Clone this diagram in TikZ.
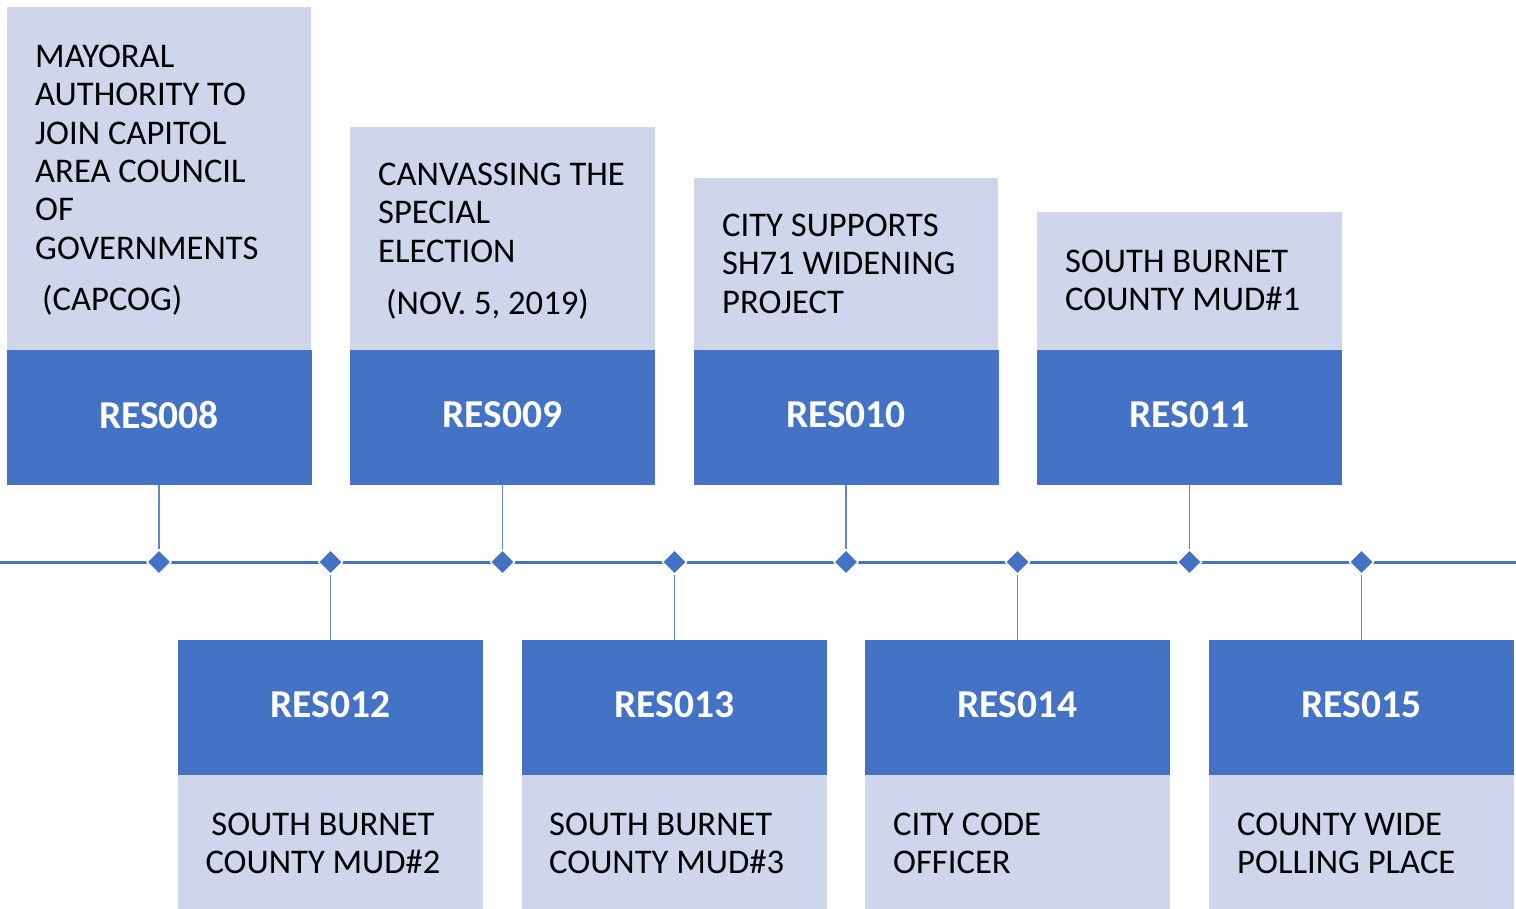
\documentclass[tikz,border=0pt]{standalone}
\usepackage{fontspec}
\setmainfont{Carlito}
\usetikzlibrary{shapes.geometric}
\definecolor{resblue}{HTML}{4472C4}
\definecolor{reslight}{HTML}{CFD5EA}
\begin{document}
\begin{tikzpicture}[x=1pt,y=-1pt,line join=round,
	resbox/.style={fill=resblue,minimum width=305pt,minimum height=135pt,inner sep=0pt,text depth=6pt,text=white,font=\fontsize{39.5}{42}\selectfont\bfseries},
	infotext/.style={anchor=north west,inner sep=0pt,align=left,font=\fontsize{34.6}{38.3}\selectfont},
	dmark/.style={diamond,fill=resblue,draw=white,line width=1.5pt,inner sep=0pt,minimum width=25pt,minimum height=25pt},
	link/.style={draw=resblue!85,line width=1.3pt}]
	\useasboundingbox (0,0) rectangle (1516,909);
	% light panels
	\fill[reslight] (7,7) rectangle (311,350);
	\fill[reslight] (350,127) rectangle (655,350);
	\fill[reslight] (694,178) rectangle (998,350);
	\fill[reslight] (1037,212) rectangle (1342,350);
	\foreach \x in {178,522,865,1209} \fill[reslight] (\x,775) rectangle (\x+305,909);
	% timeline
	\draw[resblue,line width=3pt] (0,562)--(1516,562);
	\foreach \n/\x in {1/159,2/330.5,3/502.5,4/674.5,5/846,6/1017.5,7/1189.5,8/1361.5}
		\node[dmark] (d\n) at (\x,562) {};
	% resolutions
	\node[resbox] (r008) at (159,417.5) {RES008};
	\node[resbox] (r009) at (502.5,417.5) {RES009};
	\node[resbox] (r010) at (846,417.5) {RES010};
	\node[resbox] (r011) at (1189.5,417.5) {RES011};
	\node[resbox] (r012) at (330.5,707.5) {RES012};
	\node[resbox] (r013) at (674.5,707.5) {RES013};
	\node[resbox] (r014) at (1017.5,707.5) {RES014};
	\node[resbox] (r015) at (1361.5,707.5) {RES015};
	\draw[link] (r008)--(d1);
	\draw[link] (r009)--(d3);
	\draw[link] (r010)--(d5);
	\draw[link] (r011)--(d7);
	\draw[link] (d2)--(r012);
	\draw[link] (d4)--(r013);
	\draw[link] (d6)--(r014);
	\draw[link] (d8)--(r015);
	% descriptions
	\node[infotext] (t008) at (35,45) {MAYORAL\\AUTHORITY TO\\JOIN CAPITOL\\AREA COUNCIL\\OF\\GOVERNMENTS\\[13pt]\hspace*{7pt}(CAPCOG)};
	\node[infotext] (t009) at (378,163) {CANVASSING THE\\SPECIAL\\ELECTION\\[14pt]\hspace*{8pt}(NOV. 5, 2019)};
	\node[infotext] (t010) at (722,214) {CITY SUPPORTS\\SH71 WIDENING\\PROJECT};
	\node[infotext] (t011) at (1065,250) {SOUTH BURNET\\COUNTY MUD\#1};
	\node[infotext,anchor=north,align=center] (t012) at (323,813) {SOUTH BURNET\\COUNTY MUD\#2};
	\node[infotext] (t013) at (549,813) {SOUTH BURNET\\COUNTY MUD\#3};
	\node[infotext] (t014) at (893,813) {CITY CODE\\OFFICER};
	\node[infotext] (t015) at (1237,813) {COUNTY WIDE\\POLLING PLACE};
\end{tikzpicture}
\end{document}
